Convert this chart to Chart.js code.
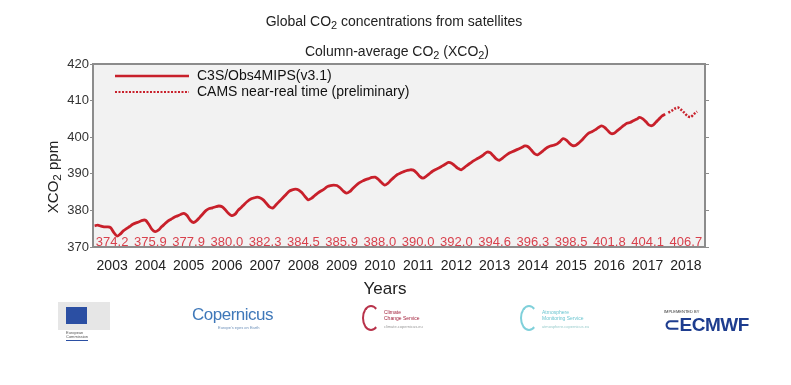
<!DOCTYPE html>
<html>
<head>
<meta charset="utf-8">
<script src="https://cdn.jsdelivr.net/npm/chart.js@4/dist/chart.umd.min.js"></script>
<style>
  body { margin: 0; background: #fff; font-family: "Liberation Sans", Arial, sans-serif; }
  #wrap { position: relative; width: 791px; height: 385px; }
  .logo { position: absolute; }
</style>
</head>
<body>
<div id="wrap">
  <canvas id="co2Chart" width="791" height="385"></canvas>

  <div class="logo" style="left:58px;top:302px;width:52px;height:40px;">
    <div style="position:absolute;left:0;top:0;width:52px;height:28px;background:#e6e6e6;"></div>
    <div style="position:absolute;left:8px;top:5px;width:21px;height:17px;background:#2b4fa3;"></div>
    <div style="position:absolute;left:8px;top:29px;font-size:4px;color:#555;line-height:4px;">European<br>Commission</div>
    <div style="position:absolute;left:8px;top:38px;width:22px;height:1px;background:#2b4fa3;"></div>
  </div>
  <div class="logo" style="left:192px;top:305px;color:#3f78b9;">
    <div style="font-size:17px;letter-spacing:-0.5px;">Copernicus</div>
    <div style="font-size:4px;color:#6b8fb9;margin-left:26px;">Europe's eyes on Earth</div>
  </div>
  <div class="logo" style="left:362px;top:305px;color:#a3233d;">
    <div style="position:absolute;left:0;top:0;width:14px;height:22px;border:2px solid #b8324a;border-radius:50%;border-right-color:transparent;"></div>
    <div style="position:absolute;left:22px;top:4px;font-size:5px;line-height:6px;white-space:nowrap;">Climate<br>Change Service</div>
    <div style="position:absolute;left:22px;top:19px;font-size:4px;color:#999;white-space:nowrap;">climate.copernicus.eu</div>
  </div>
  <div class="logo" style="left:520px;top:305px;color:#6cc6d1;">
    <div style="position:absolute;left:0;top:0;width:14px;height:22px;border:2px solid #7fd0da;border-radius:50%;border-right-color:transparent;"></div>
    <div style="position:absolute;left:22px;top:4px;font-size:5px;line-height:6px;white-space:nowrap;">Atmosphere<br>Monitoring Service</div>
    <div style="position:absolute;left:22px;top:19px;font-size:4px;color:#9cc;white-space:nowrap;">atmosphere.copernicus.eu</div>
  </div>
  <div class="logo" style="left:664px;top:309px;color:#1e3d8f;">
    <div style="font-size:4px;color:#333;">IMPLEMENTED BY</div>
    <div style="font-size:19px;font-weight:bold;letter-spacing:-0.5px;margin-top:-1px;">&#8834;ECMWF</div>
  </div>
</div>

<script>
const years = [2003, 2004, 2005, 2006, 2007, 2008, 2009, 2010, 2011, 2012, 2013, 2014, 2015, 2016, 2017, 2018];
const annualMeans = [374.2, 375.9, 377.9, 380.0, 382.3, 384.5, 385.9, 388.0, 390.0, 392.0, 394.6, 396.3, 398.5, 401.8, 404.1, 406.7];
const yTicks = [370, 380, 390, 400, 410, 420];

// monthly XCO2, Jan 2003 .. Dec 2017 (one row per year)
const c3sStart = 2003;
const c3sMonthly = [
  375.8, 376.0, 375.7, 375.5, 375.5, 375.3, 374.0, 373.0, 373.5, 374.4, 375.0, 375.6,
  376.2, 376.6, 376.9, 377.3, 377.3, 376.2, 374.8, 374.2, 374.6, 375.5, 376.3, 377.1,
  377.6, 378.1, 378.5, 378.9, 379.2, 378.6, 377.3, 376.7, 377.2, 378.1, 379.1, 380.0,
  380.5, 380.7, 381.0, 381.2, 381.0, 380.2, 379.2, 378.6, 378.9, 380.0, 380.8, 381.7,
  382.5, 383.1, 383.4, 383.6, 383.4, 382.8, 381.8, 380.9, 380.7, 381.6, 382.5, 383.4,
  384.3, 385.2, 385.6, 385.8, 385.6, 384.9, 383.8, 382.9, 383.3, 384.0, 384.7, 385.3,
  385.8, 386.5, 386.8, 386.9, 386.8, 386.2, 385.3, 384.7, 385.1, 386.0, 386.8, 387.5,
  388.0, 388.4, 388.7, 389.0, 389.1, 388.5, 387.6, 386.9, 387.4, 388.3, 389.1, 389.8,
  390.2, 390.6, 390.9, 391.1, 391.0, 390.3, 389.3, 388.8, 389.3, 390.0, 390.7, 391.2,
  391.6, 392.1, 392.6, 393.1, 392.9, 392.2, 391.5, 391.1, 391.7, 392.4, 393.0, 393.6,
  394.1, 394.6, 395.2, 395.9, 395.8, 395.0, 394.1, 393.7, 394.3, 395.0, 395.6, 396.0,
  396.4, 396.8, 397.2, 397.6, 397.4, 396.5, 395.5, 395.2, 395.8, 396.5, 397.2, 397.6,
  397.8, 398.1, 398.8, 399.6, 399.2, 398.3, 397.7, 397.8, 398.5, 399.3, 400.3, 401.1,
  401.5, 402.0, 402.6, 403.1, 402.7, 401.8, 401.0, 401.1, 401.8, 402.5, 403.2, 403.8,
  404.0, 404.5, 404.9, 405.4, 405.0, 404.2, 403.3, 403.2, 404.0, 404.9, 405.8, 406.3
];
// CAMS near-real time, Jan 2018 .. Oct 2018
const camsStart = 2018;
const camsMonthly = [406.7, 407.2, 407.8, 408.1, 407.5, 406.7, 405.8, 405.5, 406.3, 407.0];

const toPoints = (start, vals) => vals.map((v, i) => ({ x: start + (i + 0.5) / 12, y: v }));

const lineRed = '#c8202b';
const labelRed = '#d8414d';
const font = '"Liberation Sans", Arial, sans-serif';

// text with subscripts: parts = [[text, isSub], ...], centred on (cx, cy)
function subText(ctx, parts, cx, cy, size) {
  const sub = size * 0.78;
  let total = 0;
  parts.forEach(([t, s]) => { ctx.font = (s ? sub : size) + 'px ' + font; total += ctx.measureText(t).width; });
  let x = cx - total / 2;
  ctx.textAlign = 'left';
  parts.forEach(([t, s]) => {
    ctx.font = (s ? sub : size) + 'px ' + font;
    ctx.fillText(t, x, cy + (s ? size * 0.28 : 0));
    x += ctx.measureText(t).width;
  });
}

const decor = {
  id: 'decor',
  beforeDraw(chart) {
    const { ctx, chartArea: a } = chart;
    ctx.save();
    ctx.fillStyle = '#f2f2f2';
    ctx.fillRect(a.left, a.top, a.width, a.height);
    ctx.restore();
  },
  afterDraw(chart) {
    const { ctx, chartArea: a, scales } = chart;
    ctx.save();
    // frame
    ctx.strokeStyle = '#8c8c8c';
    ctx.lineWidth = 2;
    ctx.strokeRect(a.left, a.top, a.width, a.height);

    // annual means
    ctx.fillStyle = labelRed;
    ctx.font = '13px ' + font;
    ctx.textAlign = 'center';
    ctx.textBaseline = 'middle';
    years.forEach((yr, i) => {
      ctx.fillText(annualMeans[i].toFixed(1), scales.x.getPixelForValue(yr + 0.5), scales.y.getPixelForValue(370) - 5);
    });

    // titles
    ctx.fillStyle = '#222';
    subText(ctx, [['Global CO', false], ['2', true], [' concentrations from satellites', false]], 394, 22, 14);
    subText(ctx, [['Column-average CO', false], ['2', true], [' (XCO', false], ['2', true], [')', false]], 397, 52, 14);
    ctx.textAlign = 'center';
    ctx.font = '17px ' + font;
    ctx.fillText('Years', 385, 289);
    ctx.save();
    ctx.translate(54, 177);
    ctx.rotate(-Math.PI / 2);
    subText(ctx, [['XCO', false], ['2', true], [' ppm', false]], 0, 0, 15);
    ctx.restore();

    // legend
    ctx.strokeStyle = lineRed;
    ctx.lineWidth = 2.5;
    ctx.beginPath(); ctx.moveTo(115, 76); ctx.lineTo(189, 76); ctx.stroke();
    ctx.lineWidth = 2;
    ctx.setLineDash([2, 1.5]);
    ctx.beginPath(); ctx.moveTo(115, 92); ctx.lineTo(189, 92); ctx.stroke();
    ctx.setLineDash([]);
    ctx.fillStyle = '#111';
    ctx.font = '14px ' + font;
    ctx.textAlign = 'left';
    ctx.fillText('C3S/Obs4MIPS(v3.1)', 197, 76);
    ctx.fillText('CAMS near-real time (preliminary)', 197, 92);
    ctx.restore();
  }
};

new Chart(document.getElementById('co2Chart'), {
  type: 'line',
  data: {
    datasets: [
      {
        label: 'C3S/Obs4MIPS(v3.1)',
        data: toPoints(c3sStart, c3sMonthly),
        borderColor: lineRed,
        borderWidth: 2.8,
        pointRadius: 0,
        tension: 0.3,
        fill: false
      }, {
        label: 'CAMS near-real time (preliminary)',
        data: toPoints(camsStart, camsMonthly),
        borderColor: lineRed,
        borderWidth: 2.5,
        borderDash: [2, 1.5],
        pointRadius: 0,
        tension: 0.3,
        fill: false
      }
    ]
  },
  options: {
    responsive: false,
    animation: false,
    layout: { padding: { left: 0, right: 82, top: 64, bottom: 98 } },
    plugins: { legend: { display: false }, tooltip: { enabled: false } },
    scales: {
      x: {
        type: 'linear',
        min: 2003,
        max: 2019,
        afterBuildTicks: s => { s.ticks = years.map(y => ({ value: y + 0.5 })); },
        afterFit: s => { s.height = 40; },
        ticks: {
          callback: v => Math.floor(v),
          color: '#222',
          font: { size: 14, family: font },
          padding: 11,
          maxRotation: 0,
          autoSkip: false
        },
        grid: { drawOnChartArea: false, drawTicks: false },
        border: { display: false }
      },
      y: {
        min: 370,
        max: 420,
        afterBuildTicks: s => { s.ticks = yTicks.map(v => ({ value: v })); },
        afterFit: s => { s.width = 93; },
        ticks: { color: '#333', font: { size: 13, family: font }, padding: 1 },
        grid: { drawOnChartArea: false, tickLength: 3, color: '#8c8c8c' },
        border: { display: false }
      },
      y2: {
        position: 'right',
        min: 370,
        max: 420,
        afterBuildTicks: s => { s.ticks = yTicks.map(v => ({ value: v })); },
        afterFit: s => { s.width = 4; },
        ticks: { display: false },
        grid: { drawOnChartArea: false, tickLength: 4, color: '#8c8c8c' },
        border: { display: false }
      }
    }
  },
  plugins: [decor]
});
</script>
</body>
</html>
